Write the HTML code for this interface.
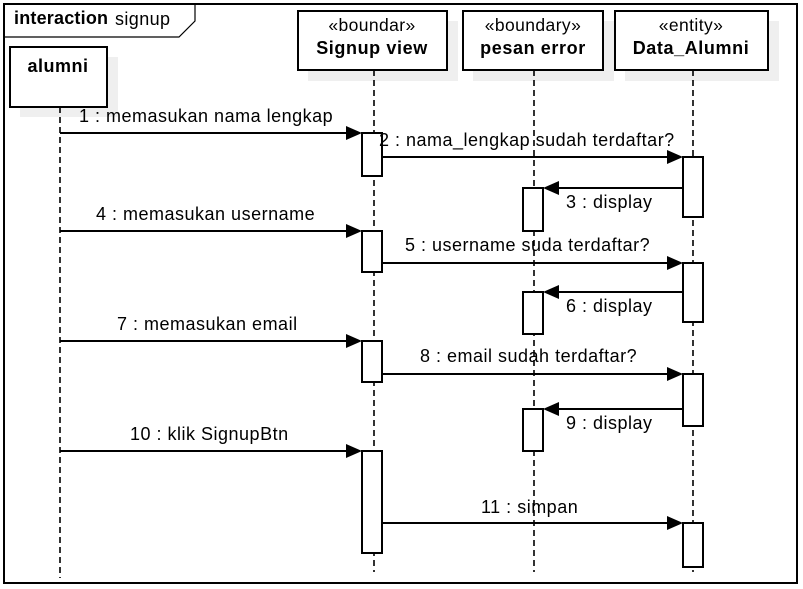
<!DOCTYPE html>
<html><head><meta charset="utf-8"><style>html,body{margin:0;padding:0;background:#fff}svg{display:block}text{font-family:"Liberation Sans",Arial,sans-serif;fill:#000}</style></head>
<body>
<svg width="803" height="589" viewBox="0 0 803 589" xmlns="http://www.w3.org/2000/svg">
<rect x="0" y="0" width="803" height="589" fill="#fff"/>
<rect x="4" y="4" width="793" height="579" fill="none" stroke="#000" stroke-width="2"/>
<polyline points="4,37 179,37 195,21 195,4" fill="none" stroke="#000" stroke-width="1.2"/>
<text x="14" y="24" font-size="18" font-weight="bold" letter-spacing="0.2">interaction</text>
<text x="115" y="25" font-size="18" letter-spacing="0.4">signup</text>
<rect x="20" y="57" width="98" height="60" fill="#efefef"/>
<rect x="308" y="21" width="150" height="60" fill="#efefef"/>
<rect x="473" y="21" width="141" height="60" fill="#efefef"/>
<rect x="625" y="21" width="154" height="60" fill="#efefef"/>
<g stroke="#000" stroke-width="1.6" stroke-dasharray="6,4">
<line x1="60" y1="107" x2="60" y2="578"/>
<line x1="374" y1="70" x2="374" y2="572"/>
<line x1="534" y1="70" x2="534" y2="572"/>
<line x1="693" y1="70" x2="693" y2="572"/>
</g>
<g fill="#fff" stroke="#000" stroke-width="2">
<rect x="10" y="47" width="97" height="60"/>
<rect x="298" y="11" width="149" height="59"/>
<rect x="463" y="11" width="140" height="59"/>
<rect x="615" y="11" width="153" height="59"/>
</g>
<g text-anchor="middle">
<text x="58" y="72" font-size="18" font-weight="bold" letter-spacing="0.5">alumni</text>
<text x="372" y="31" font-size="17.5" letter-spacing="0.4">«boundar»</text>
<text x="372" y="54" font-size="18" font-weight="bold" letter-spacing="0.6">Signup view</text>
<text x="533" y="31" font-size="17.5" letter-spacing="0.4">«boundary»</text>
<text x="533" y="54" font-size="18" font-weight="bold" letter-spacing="0.6">pesan error</text>
<text x="691" y="31" font-size="17.5" letter-spacing="0.4">«entity»</text>
<text x="691" y="54" font-size="18" font-weight="bold" letter-spacing="0.6">Data_Alumni</text>
</g>
<g fill="#fff" stroke="#000" stroke-width="2">
<rect x="362" y="133" width="20" height="43"/>
<rect x="362" y="231" width="20" height="41"/>
<rect x="362" y="341" width="20" height="41"/>
<rect x="362" y="451" width="20" height="102"/>
<rect x="683" y="157" width="20" height="60"/>
<rect x="683" y="263" width="20" height="59"/>
<rect x="683" y="374" width="20" height="52"/>
<rect x="683" y="523" width="20" height="44"/>
<rect x="523" y="188" width="20" height="43"/>
<rect x="523" y="292" width="20" height="42"/>
<rect x="523" y="409" width="20" height="42"/>
</g>
<g stroke="#000" stroke-width="2">
<line x1="60" y1="133" x2="348" y2="133"/>
<line x1="382" y1="157" x2="669" y2="157"/>
<line x1="683" y1="188" x2="557" y2="188"/>
<line x1="60" y1="231" x2="348" y2="231"/>
<line x1="382" y1="263" x2="669" y2="263"/>
<line x1="683" y1="292" x2="557" y2="292"/>
<line x1="60" y1="341" x2="348" y2="341"/>
<line x1="382" y1="374" x2="669" y2="374"/>
<line x1="683" y1="409" x2="557" y2="409"/>
<line x1="60" y1="451" x2="348" y2="451"/>
<line x1="382" y1="523" x2="669" y2="523"/>
</g>
<g fill="#000">
<polygon points="346,126 362,133 346,140"/>
<polygon points="667,150 683,157 667,164"/>
<polygon points="559,181 543,188 559,195"/>
<polygon points="346,224 362,231 346,238"/>
<polygon points="667,256 683,263 667,270"/>
<polygon points="559,285 543,292 559,299"/>
<polygon points="346,334 362,341 346,348"/>
<polygon points="667,367 683,374 667,381"/>
<polygon points="559,402 543,409 559,416"/>
<polygon points="346,444 362,451 346,458"/>
<polygon points="667,516 683,523 667,530"/>
</g>
<g font-size="18" letter-spacing="0.5">
<text x="79" y="122">1 : memasukan nama lengkap</text>
<text x="379" y="146">2 : nama_lengkap sudah terdaftar?</text>
<text x="566" y="208">3 : display</text>
<text x="96" y="220">4 : memasukan username</text>
<text x="405" y="251">5 : username suda terdaftar?</text>
<text x="566" y="312">6 : display</text>
<text x="117" y="330">7 : memasukan email</text>
<text x="420" y="362">8 : email sudah terdaftar?</text>
<text x="566" y="429">9 : display</text>
<text x="130" y="440">10 : klik SignupBtn</text>
<text x="481" y="513">11 : simpan</text>
</g>
</svg>
</body></html>
